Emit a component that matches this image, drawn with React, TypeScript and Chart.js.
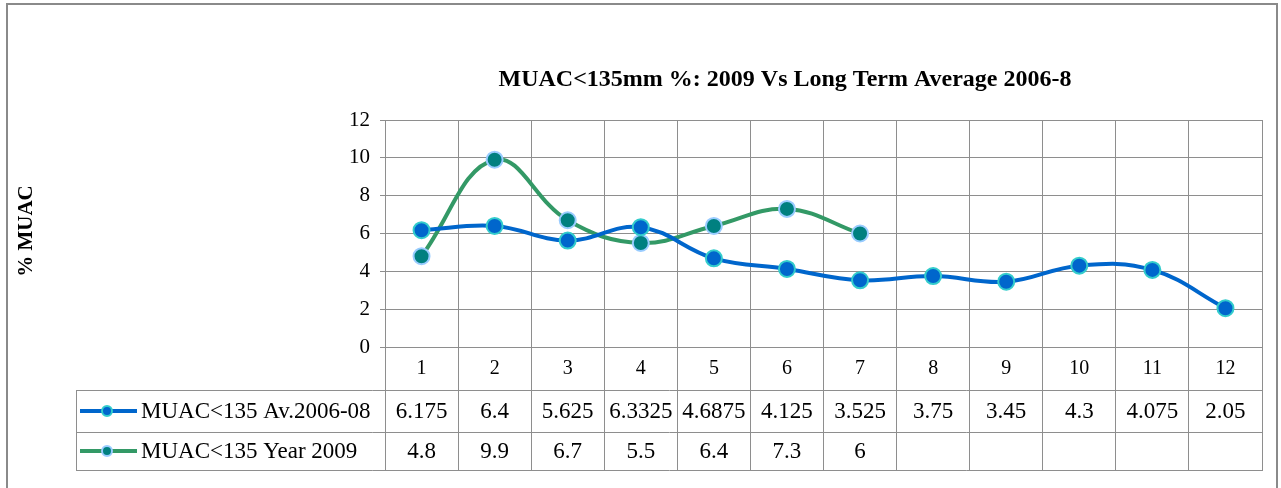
import React, { useEffect, useRef } from "react";
import { Chart, registerables } from "chart.js";

Chart.register(...registerables);

const months = ["1", "2", "3", "4", "5", "6", "7", "8", "9", "10", "11", "12"];
const avgLabel = "MUAC<135 Av.2006-08";
const avgValues = [6.175, 6.4, 5.625, 6.3325, 4.6875, 4.125, 3.525, 3.75, 3.45, 4.3, 4.075, 2.05];
const y2009Label = "MUAC<135 Year 2009";
const y2009Values: (number | null)[] = [4.8, 9.9, 6.7, 5.5, 6.4, 7.3, 6, null, null, null, null, null];
const titleText = "MUAC<135mm %: 2009 Vs Long Term Average 2006-8";
const yTitle = "% MUAC";

const FONT = "'Times New Roman', 'Liberation Serif', serif";
const GRID = "#8e8e8e";
const BLUE = "#0066cc";
const BLUE_BORDER = "#33cccc";
const GREEN = "#339966";
const GREEN_FILL = "#008080";
const GREEN_BORDER = "#99ccff";

const W = 1281;
const H = 488;

const tablePlugin = {
  id: "tablePlugin",
  afterDraw(chart: any) {
    const ctx = chart.ctx;
    const area = chart.chartArea;
    const xs = chart.scales.x;
    const cw = (area.right - area.left) / months.length;
    const row1Top = 390;
    const row2Top = 432;
    const tableBottom = 470;
    const tableLeft = 76;
    const a = (v: number) => Math.round(v - 0.5) + 0.5;

    ctx.save();
    // outer border
    ctx.strokeStyle = "#8a8a8a";
    ctx.lineWidth = 2;
    ctx.beginPath();
    ctx.moveTo(7, H);
    ctx.lineTo(7, 4);
    ctx.lineTo(1277, 4);
    ctx.lineTo(1277, H);
    ctx.stroke();

    // table lines
    ctx.strokeStyle = GRID;
    ctx.lineWidth = 1;
    ctx.beginPath();
    for (let i = 0; i <= months.length; i++) {
      const x = a(area.left + i * cw);
      ctx.moveTo(x, i === months.length ? area.top : area.bottom);
      ctx.lineTo(x, tableBottom);
    }
    for (const y of [row1Top, row2Top, tableBottom]) {
      ctx.moveTo(tableLeft, a(y));
      ctx.lineTo(a(area.right) + 0.5, a(y));
    }
    ctx.moveTo(a(tableLeft), row1Top);
    ctx.lineTo(a(tableLeft), tableBottom);
    ctx.stroke();

    // title
    ctx.fillStyle = "#000";
    ctx.textAlign = "center";
    ctx.textBaseline = "alphabetic";
    ctx.font = `bold 24px ${FONT}`;
    ctx.fillText(titleText, 785, 86);

    // y title
    ctx.save();
    ctx.translate(32, 231);
    ctx.rotate(-Math.PI / 2);
    ctx.font = `bold 21px ${FONT}`;
    ctx.textAlign = "center";
    ctx.textBaseline = "alphabetic";
    ctx.fillText(yTitle, 0, 0);
    ctx.restore();

    // rows
    const rows = [
      { label: avgLabel, values: avgValues as (number | null)[], line: BLUE, fill: BLUE, border: BLUE_BORDER, cy: (row1Top + row2Top) / 2 },
      { label: y2009Label, values: y2009Values, line: GREEN, fill: GREEN_FILL, border: GREEN_BORDER, cy: (row2Top + tableBottom) / 2 },
    ];
    ctx.font = `23px ${FONT}`;
    ctx.textBaseline = "middle";
    for (const r of rows) {
      ctx.strokeStyle = r.line;
      ctx.lineWidth = 4;
      ctx.beginPath();
      ctx.moveTo(80, r.cy);
      ctx.lineTo(137, r.cy);
      ctx.stroke();
      ctx.beginPath();
      ctx.arc(107, r.cy, 5, 0, Math.PI * 2);
      ctx.fillStyle = r.fill;
      ctx.fill();
      ctx.lineWidth = 2;
      ctx.strokeStyle = r.border;
      ctx.stroke();
      ctx.fillStyle = "#000";
      ctx.textAlign = "left";
      ctx.fillText(r.label, 141, r.cy + 1);
      ctx.textAlign = "center";
      r.values.forEach((v, i) => {
        if (v === null) return;
        ctx.fillText(String(v), xs.getPixelForValue(i), r.cy + 1);
      });
    }
    ctx.restore();
  },
};

export default function App() {
  const ref = useRef<HTMLCanvasElement | null>(null);
  useEffect(() => {
    if (!ref.current) return;
    const chart = new Chart(ref.current, {
      type: "line",
      data: {
        labels: months,
        datasets: [
          {
            label: avgLabel,
            data: avgValues,
            borderColor: BLUE,
            backgroundColor: BLUE,
            borderWidth: 4,
            tension: 0.4,
            pointRadius: 8,
            pointBorderWidth: 2,
            pointBackgroundColor: BLUE,
            pointBorderColor: BLUE_BORDER,
          },
          {
            label: y2009Label,
            data: y2009Values,
            borderColor: GREEN,
            backgroundColor: GREEN_FILL,
            borderWidth: 4,
            tension: 0.4,
            pointRadius: 8,
            pointBorderWidth: 2,
            pointBackgroundColor: GREEN_FILL,
            pointBorderColor: GREEN_BORDER,
          },
        ],
      },
      options: {
        responsive: false,
        animation: false,
        devicePixelRatio: 1,
        layout: { padding: { left: 0, top: 120, right: 19, bottom: H - 390 } },
        plugins: {
          legend: { display: false },
          title: { display: false },
          tooltip: { enabled: false },
        },
        scales: {
          x: {
            offset: true,
            grid: { offset: true, color: GRID, drawTicks: false },
            border: { color: GRID },
            ticks: { color: "#000", font: { family: FONT, size: 20 }, padding: 10 },
            afterFit: (s: any) => {
              s.height = 43;
            },
          },
          y: {
            min: 0,
            max: 12,
            ticks: { stepSize: 2, color: "#000", font: { family: FONT, size: 21 }, padding: 10 },
            grid: { color: GRID, tickLength: 5 },
            border: { color: GRID },
            afterFit: (s: any) => {
              s.width = 385;
            },
          },
        },
      },
      plugins: [tablePlugin],
    });
    return () => chart.destroy();
  }, []);
  return (
    <div style={{ position: "absolute", left: 0, top: 0, width: W, height: H, background: "#fff" }}>
      <canvas ref={ref} width={W} height={H} style={{ display: "block" }} />
    </div>
  );
}
